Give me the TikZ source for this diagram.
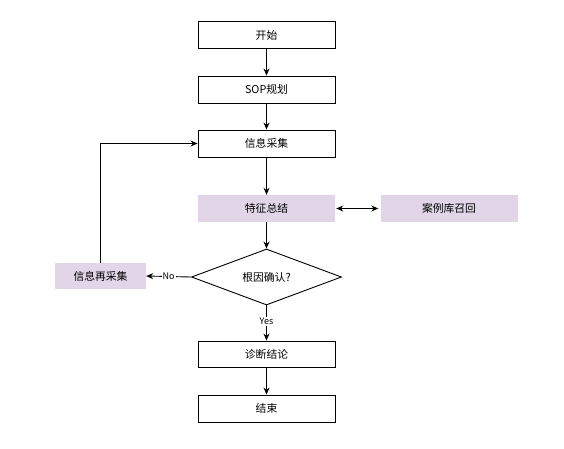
\documentclass[tikz,border=0pt]{standalone}
\usepackage{fontspec}
\setmainfont{Noto Sans CJK SC}
\usetikzlibrary{arrows.meta,shapes.geometric}
\definecolor{lav}{HTML}{E1D5E7}
\begin{document}
\begin{tikzpicture}[x=1pt,y=-1pt,
  font=\fontsize{10.8}{13}\selectfont,
  box/.style={draw=black,line width=0.9pt,minimum width=137pt,minimum height=27pt,inner sep=0pt},
  fbox/.style={fill=lav,minimum width=137pt,minimum height=27pt,inner sep=0pt},
  dec/.style={draw=black,line width=0.9pt,diamond,aspect=2.68,minimum width=150pt,minimum height=56pt,inner sep=0pt},
  arr/.style={line width=0.9pt,-{Stealth[length=7pt,width=6pt]}},
  lbl/.style={fill=white,inner sep=1pt,font=\fontsize{9}{10}\selectfont}]
\useasboundingbox (0,0) rectangle (564,448);
\node[box] (start) at (266.5,35) {开始};
\node[box] (sop) at (266.5,89.5) {SOP规划};
\node[box] (collect) at (266.5,143.5) {信息采集};
\node[fbox] (feat) at (266.5,208.5) {特征总结};
\node[fbox] (case) at (449,208.5) {案例库召回};
\node[dec] (dia) at (266.5,277) {根因确认?};
\node[fbox,minimum width=91pt,minimum height=26pt] (recol) at (100.5,276) {信息再采集};
\node[box,minimum height=26pt] (diag) at (266.5,354) {诊断结论};
\node[box] (end) at (266.5,408.5) {结束};
\draw[arr] (start) -- (sop);
\draw[arr] (sop) -- (collect);
\draw[arr] (collect) -- (feat);
\draw[line width=0.9pt,{Stealth[length=7pt,width=6pt]}-{Stealth[length=7pt,width=6pt]}] ([xshift=1pt]feat.east) -- ([xshift=-2pt]case.west);
\draw[arr] (feat) -- (dia);
\draw[arr] (dia.west) -- node[lbl,pos=0.5]{No} (recol.east);
\draw[arr] (dia.south) -- node[lbl,pos=0.45]{Yes} (diag.north);
\draw[arr] (recol.north) |- (collect.west);
\draw[arr] (diag) -- (end);
\end{tikzpicture}
\end{document}
